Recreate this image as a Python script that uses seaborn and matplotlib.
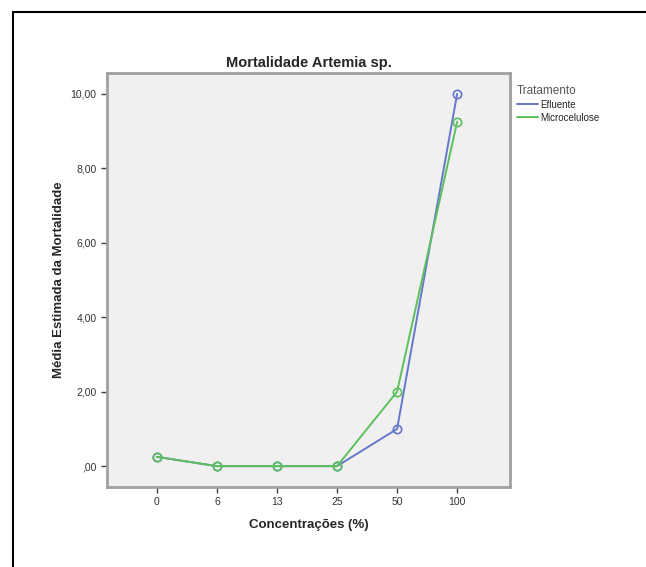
import pandas as pd
import numpy as np
import matplotlib
matplotlib.use('Agg')
from matplotlib import pyplot as plt
from matplotlib.lines import Line2D
import seaborn as sns

concentracoes = ['0', '6', '13', '25', '50', '100']
efluente = [0.25, 0.0, 0.0, 0.0, 1.0, 10.0]
microcelulose = [0.25, 0.0, 0.0, 0.0, 2.0, 9.25]
tratamentos = ['Efluente', 'Microcelulose']
cores = {'Efluente': '#6577cc', 'Microcelulose': '#5cc05c'}

data = pd.DataFrame({
    'conc': concentracoes * 2,
    'media': efluente + microcelulose,
    'Tratamento': ['Efluente'] * 6 + ['Microcelulose'] * 6,
})

sns.set_style('white')
plt.rcParams['font.family'] = ['Liberation Sans', 'DejaVu Sans']

fig = plt.figure(figsize=(6.46, 5.67), dpi=100)
ax = fig.add_axes([107 / 646, 1 - 487 / 567, 403 / 646, 414 / 567])
ax.set_facecolor('#f0f0f0')

sns.lineplot(data=data, x='conc', y='media', hue='Tratamento', palette=cores,
             marker='o', mfc='none', mew=1.2, ms=6, lw=1.4, ax=ax, legend=False)
# marcadores ocos com a cor da linha
for ln in ax.lines:
    ln.set_markeredgecolor(ln.get_color())
    ln.set_markerfacecolor('none')

ax.set_xlim(-0.83, 5.88)
ax.set_ylim(-0.56, 10.56)
ax.set_yticks([0, 2, 4, 6, 8, 10])
ax.set_yticklabels([',00', '2,00', '4,00', '6,00', '8,00', '10,00'])
for s in ax.spines.values():
    s.set_color('#a0a0a0')
    s.set_linewidth(2)
ax.tick_params(axis='both', length=4, width=1, color='#404040', labelsize=7.5,
               labelcolor='#333333', direction='out', bottom=True, left=True)
ax.set_xlabel('Concentrações (%)', fontsize=9.5, fontweight='bold', labelpad=8)
ax.set_ylabel('Média Estimada da Mortalidade', fontsize=9.5, fontweight='bold', labelpad=4)
ax.set_title('Mortalidade Artemia sp.', fontsize=10.5, fontweight='bold', pad=4)

handles = [Line2D([], [], color=cores[t], lw=1.4) for t in tratamentos]
leg = fig.legend(handles, tratamentos, title='Tratamento', loc='upper left',
                 bbox_to_anchor=(508 / 646, 1 - 76 / 567), frameon=False,
                 fontsize=7, title_fontsize=8.5, handlelength=2.2, handletextpad=0.2,
                 labelspacing=0.3, alignment='left')
leg.get_title().set_color('#555555')

# moldura exterior (topo e esquerda)
fig.add_artist(Line2D([13 / 646, 1], [1 - 12 / 567, 1 - 12 / 567], color='black', lw=1.5))
fig.add_artist(Line2D([13 / 646, 13 / 646], [0, 1 - 12 / 567], color='black', lw=1.5))

fig.savefig('out.png', dpi=100)
